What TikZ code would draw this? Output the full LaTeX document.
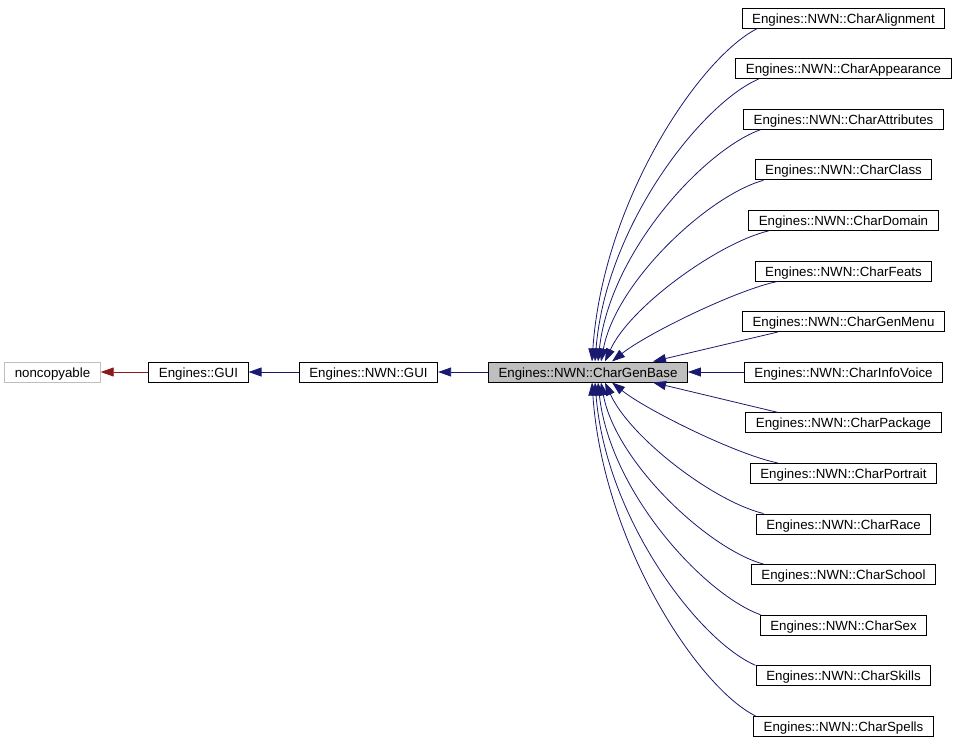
\documentclass[tikz,border=0pt]{standalone}
\usepackage{fontspec}
\setmainfont{Liberation Sans}
\usetikzlibrary{graphs}
\usetikzlibrary{arrows.meta}
\definecolor{inhblue}{HTML}{191970}
\definecolor{inhred}{HTML}{8B1A1A}
\definecolor{boxgray}{HTML}{BFBFBF}
\tikzset{
  cls/.style= {draw, line width=1pt, minimum height=20pt, inner xsep=10pt, inner ysep=0pt,
               text height=10pt, text depth=0pt, font=\fontsize{13.3}{16}\selectfont},
  ext/.style= {cls, draw=boxgray},
  focus/.style= {fill=boxgray},
  inh/.style= {inhblue, line width=0.8pt},
}

\begin{document}
\begin{tikzpicture}[x=1pt, y=-1pt, >={Triangle[length=13pt, width=9pt]}]
  \useasboundingbox (0,0) rectangle (956,747);
  \node [ext] (noncopyable) at (52.5,372) {noncopyable} ;
  \node [cls] (gui) at (198.5,372) {Engines::GUI} ;
  \node [cls] (nwngui) at (368.5,372) {Engines::NWN::GUI} ;
  \node [cls, focus] (base) at (588,372) {Engines::NWN::CharGenBase} ;

  \node [cls] (alignment) at (843.5,18) {Engines::NWN::CharAlignment} ;
  \node [cls] (appearance) at (843.5,68.6) {Engines::NWN::CharAppearance} ;
  \node [cls] (attributes) at (843.5,119.2) {Engines::NWN::CharAttributes} ;
  \node [cls] (class) at (843.5,169.8) {Engines::NWN::CharClass} ;
  \node [cls] (domain) at (843.5,220.4) {Engines::NWN::CharDomain} ;
  \node [cls] (feats) at (843.5,271) {Engines::NWN::CharFeats} ;
  \node [cls] (genmenu) at (843.5,321.6) {Engines::NWN::CharGenMenu} ;
  \node [cls] (infovoice) at (843.5,372) {Engines::NWN::CharInfoVoice} ;
  \node [cls] (package) at (843.5,422.8) {Engines::NWN::CharPackage} ;
  \node [cls] (portrait) at (843.5,473.4) {Engines::NWN::CharPortrait} ;
  \node [cls] (race) at (843.5,524) {Engines::NWN::CharRace} ;
  \node [cls] (school) at (843.5,574.6) {Engines::NWN::CharSchool} ;
  \node [cls] (sex) at (843.5,625.2) {Engines::NWN::CharSex} ;
  \node [cls] (skills) at (843.5,675.8) {Engines::NWN::CharSkills} ;
  \node [cls] (spells) at (843.5,726.4) {Engines::NWN::CharSpells} ;

  \graph [edges=inh] {
    (noncopyable) <-[inhred] (gui) <- (nwngui) <- (base) <- (infovoice) ;
  } ;

  % classes above the base
  \draw [inh, ->] ([xshift=-86pt]alignment.south) .. controls +(-57,28) and +(11,-161) .. ([xshift=4pt]base.north) ;
  \draw [inh, ->] ([xshift=-85pt]appearance.south) .. controls +(-56,24) and +(11,-137) .. ([xshift=7pt]base.north) ;
  \draw [inh, ->] ([xshift=-83pt]attributes.south) .. controls +(-56,20) and +(12,-110) .. ([xshift=10pt]base.north) ;
  \draw [inh, ->] ([xshift=-80pt]class.south) .. controls +(-55,15) and +(15,-80) .. ([xshift=13pt]base.north) ;
  \draw [inh, ->] ([xshift=-75pt]domain.south) .. controls +(-50,12) and +(25,-55) .. ([xshift=17pt]base.north) ;
  \draw [inh, ->] ([xshift=-66pt]feats.south) .. controls +(-40,8) and +(35,-28) .. ([xshift=24pt]base.north) ;
  \draw [inh, ->] ([xshift=-66pt]genmenu.south) -- ([xshift=65pt]base.north) ;

  % classes below the base
  \draw [inh, ->] ([xshift=-66pt]package.north) -- ([xshift=65pt]base.south) ;
  \draw [inh, ->] ([xshift=-66pt]portrait.north) .. controls +(-40,-8) and +(35,28) .. ([xshift=24pt]base.south) ;
  \draw [inh, ->] ([xshift=-80pt]race.north) .. controls +(-50,-12) and +(25,55) .. ([xshift=17pt]base.south) ;
  \draw [inh, ->] ([xshift=-80pt]school.north) .. controls +(-55,-15) and +(15,80) .. ([xshift=13pt]base.south) ;
  \draw [inh, ->] ([xshift=-83pt]sex.north) .. controls +(-56,-20) and +(12,110) .. ([xshift=10pt]base.south) ;
  \draw [inh, ->] ([xshift=-88pt]skills.north) .. controls +(-56,-24) and +(11,137) .. ([xshift=7pt]base.south) ;
  \draw [inh, ->] ([xshift=-88pt]spells.north) .. controls +(-57,-28) and +(11,161) .. ([xshift=4pt]base.south) ;
\end{tikzpicture}
\end{document}
